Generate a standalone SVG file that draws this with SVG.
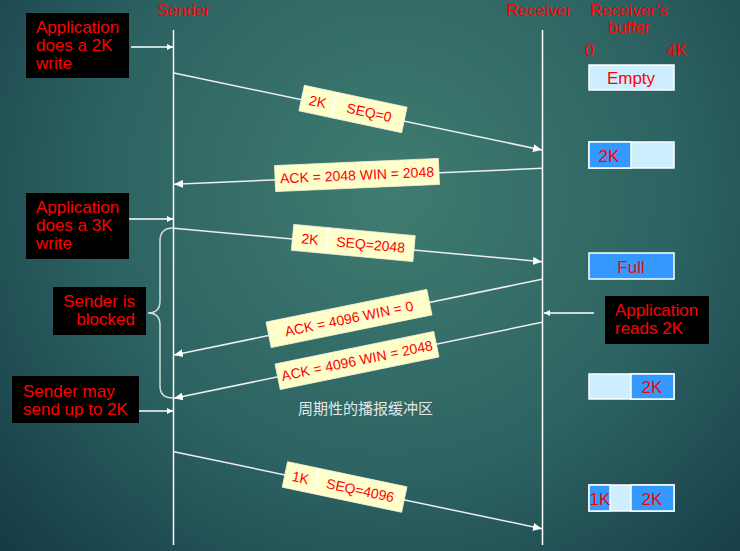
<svg xmlns="http://www.w3.org/2000/svg" width="740" height="551" viewBox="0 0 740 551">
<defs>
<radialGradient id="bg" gradientUnits="userSpaceOnUse" cx="390" cy="190" r="520">
<stop offset="0" stop-color="#3f7c70"/>
<stop offset="0.55" stop-color="#2d6362"/>
<stop offset="1" stop-color="#163c48"/>
</radialGradient>
<marker id="ah" markerUnits="userSpaceOnUse" markerWidth="10" markerHeight="8" refX="9" refY="4" orient="auto">
<path d="M0,0 L9,4 L0,8 z" fill="#ffffff"/>
</marker>
<marker id="as" markerUnits="userSpaceOnUse" markerWidth="7" markerHeight="6" refX="6" refY="3" orient="auto">
<path d="M0,0 L6,3 L0,6 z" fill="#ffffff"/>
</marker>
<style>
.t{font-family:"Liberation Sans",Arial,sans-serif;fill:#ff0000}
.big{font-size:17px}
.hd{font-size:16.5px}
.lb{font-size:14px}
.blk{fill:#000000}
.lbl{fill:#ffffcc;stroke:#f4f4d8;stroke-width:0.8}
.div{stroke:#ffffff;stroke-width:1.5}
.light{fill:#cceeff;stroke:#ffffff;stroke-width:1.5}
.blue{fill:#3399ff;stroke:#ffffff;stroke-width:1.5}
.msg{stroke:#eeeeee;stroke-width:1.5;fill:none;marker-end:url(#ah)}
.app{stroke:#ffffff;stroke-width:1.5;fill:none;marker-end:url(#as)}
.life{stroke:#ffffff;stroke-width:1.5}
</style>
</defs>
<rect width="740" height="551" fill="url(#bg)"/>

<g id="headers">
<text class="t hd" x="183.5" y="16" text-anchor="middle">Sender</text>
<text class="t hd" x="539" y="16" text-anchor="middle">Receiver</text>
<text class="t hd" x="629" y="16" text-anchor="middle">Receiver’s</text>
<text class="t hd" x="629" y="33" text-anchor="middle">buffer</text>
<text class="t big" x="589.5" y="56" text-anchor="middle">0</text>
<text class="t big" x="677" y="56" text-anchor="middle">4K</text>
</g>

<g id="lifelines">
<line class="life" x1="173.5" y1="30" x2="173.5" y2="545"/>
<line class="life" x1="542.5" y1="30" x2="542.5" y2="545"/>
</g>

<g id="connectors">
<line class="app" x1="131" y1="47" x2="173" y2="47"/>
<line class="app" x1="123" y1="219" x2="173" y2="219"/>
<line class="app" x1="130" y1="411" x2="173" y2="411"/>
<line class="app" x1="594" y1="313" x2="544" y2="313"/>
<line class="msg" x1="174" y1="73" x2="542" y2="150"/>
<line class="msg" x1="542" y1="168.3" x2="174" y2="184.3"/>
<line class="msg" x1="174" y1="228.3" x2="542" y2="261.7"/>
<line class="msg" x1="542" y1="279.3" x2="174" y2="355"/>
<line class="msg" x1="542" y1="322.3" x2="174" y2="398.3"/>
<line class="msg" x1="174" y1="451.7" x2="542" y2="528.7"/>
<path id="brace" d="M173,228 Q160,228 160,241 L160,301 Q160,313 148,313 Q160,313 160,325 L160,386 Q160,398 173,398" fill="none" stroke="#d4dcdc" stroke-width="1.5"/>
</g>

<g id="app-write-2k">
<rect class="blk" x="26" y="13" width="103" height="65"/>
<text class="t big" x="36" y="33">Application</text>
<text class="t big" x="36" y="51">does a 2K</text>
<text class="t big" x="36" y="69">write</text>
</g>

<g id="app-write-3k">
<rect class="blk" x="26" y="193" width="103" height="66"/>
<text class="t big" x="36" y="213">Application</text>
<text class="t big" x="36" y="231">does a 3K</text>
<text class="t big" x="36" y="249">write</text>
</g>

<g id="sender-blocked">
<rect class="blk" x="53" y="287" width="93" height="48"/>
<text class="t big" x="135" y="307" text-anchor="end">Sender is</text>
<text class="t big" x="135" y="324.5" text-anchor="end">blocked</text>
</g>

<g id="sender-may">
<rect class="blk" x="12" y="376" width="127" height="47"/>
<text class="t big" x="23" y="397">Sender may</text>
<text class="t big" x="23" y="414.5">send up to 2K</text>
</g>

<g id="app-reads">
<rect class="blk" x="605" y="296" width="104" height="48"/>
<text class="t big" x="615" y="316">Application</text>
<text class="t big" x="615" y="333.5">reads 2K</text>
</g>

<g id="pkt1" transform="translate(353,109) rotate(12)">
<rect class="lbl" x="-52.5" y="-13" width="105" height="26"/>
<line class="div" x1="-19.5" y1="-13" x2="-19.5" y2="13"/>
<text class="t lb" x="-36" y="5" text-anchor="middle">2K</text>
<text class="t lb" x="16.5" y="5" text-anchor="middle">SEQ=0</text>
</g>

<g id="ack1" transform="translate(357,175) rotate(-2.5)">
<rect class="lbl" x="-82" y="-13" width="164" height="26"/>
<text class="t lb" x="0" y="5" text-anchor="middle">ACK = 2048 WIN = 2048</text>
</g>

<g id="pkt2" transform="translate(353.3,243) rotate(5.3)">
<rect class="lbl" x="-61" y="-13" width="122" height="26"/>
<line class="div" x1="-26" y1="-13" x2="-26" y2="13"/>
<text class="t lb" x="-43.5" y="5" text-anchor="middle">2K</text>
<text class="t lb" x="17.5" y="5" text-anchor="middle">SEQ=2048</text>
</g>

<g id="ack2" transform="translate(349,318.5) rotate(-11.5)">
<rect class="lbl" x="-82" y="-13" width="164" height="26"/>
<text class="t lb" x="0" y="5" text-anchor="middle">ACK = 4096 WIN = 0</text>
</g>

<g id="ack3" transform="translate(357,360.5) rotate(-11.6)">
<rect class="lbl" x="-81" y="-13" width="162" height="26"/>
<text class="t lb" x="0" y="5" text-anchor="middle">ACK = 4096 WIN = 2048</text>
</g>

<g id="pkt3" transform="translate(344.6,487) rotate(11.9)">
<rect class="lbl" x="-61" y="-13" width="122" height="26"/>
<line class="div" x1="-29" y1="-13" x2="-29" y2="13"/>
<text class="t lb" x="-45" y="5" text-anchor="middle">1K</text>
<text class="t lb" x="16" y="5" text-anchor="middle">SEQ=4096</text>
</g>

<text id="note" x="298" y="414" font-family="'Noto Sans CJK SC',sans-serif" font-size="15" fill="#e4e8e8">周期性的播报缓冲区</text>

<g id="buf-empty">
<rect class="light" x="589" y="65" width="85" height="25"/>
<text class="t big" x="631" y="84" text-anchor="middle">Empty</text>
</g>

<g id="buf-2k">
<rect class="light" x="589" y="142" width="85" height="26"/>
<rect class="blue" x="589" y="142" width="42" height="26"/>
<text class="t big" x="609" y="162" text-anchor="middle">2K</text>
</g>

<g id="buf-full">
<rect class="blue" x="589" y="253" width="85" height="26"/>
<text class="t big" x="631" y="273" text-anchor="middle">Full</text>
</g>

<g id="buf-read">
<rect class="light" x="589" y="374" width="85" height="25"/>
<rect class="blue" x="631" y="374" width="43" height="25"/>
<text class="t big" x="652" y="393" text-anchor="middle">2K</text>
</g>

<g id="buf-last">
<rect class="light" x="589" y="485" width="85" height="26"/>
<rect class="blue" x="589" y="485" width="21" height="26"/>
<rect class="blue" x="631" y="485" width="43" height="26"/>
<text class="t big" x="600" y="505" text-anchor="middle">1K</text>
<text class="t big" x="652" y="505" text-anchor="middle">2K</text>
</g>
</svg>
